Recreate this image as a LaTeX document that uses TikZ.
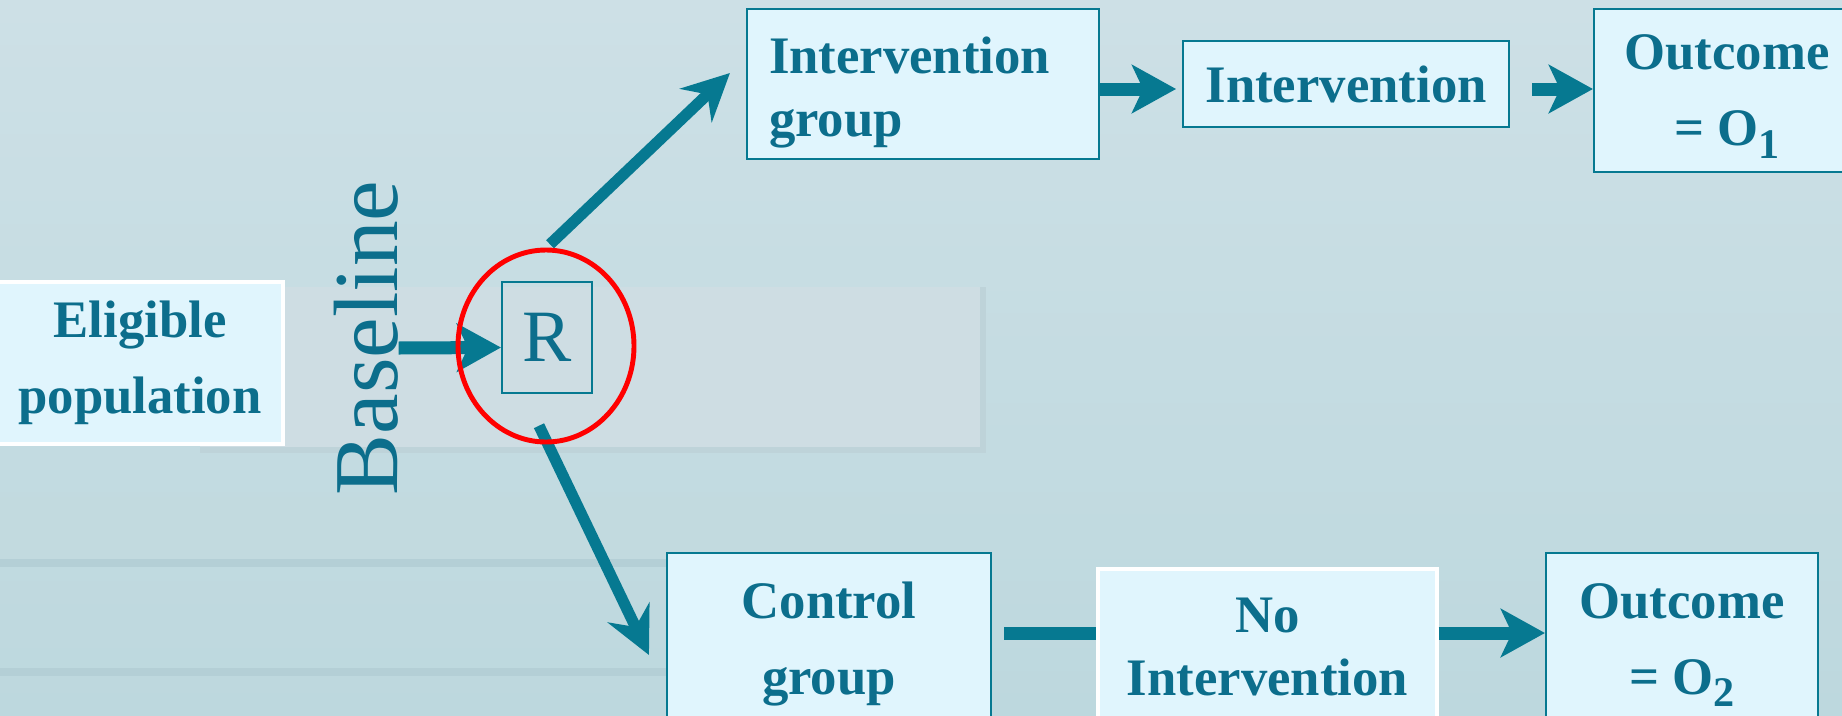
\documentclass[tikz,border=0pt]{standalone}
\usepackage{fontspec}
\setmainfont{Liberation Serif}
\usepackage{xcolor}
\usepackage{tikz}
\usetikzlibrary{arrows.meta,positioning,shapes.geometric}

\definecolor{tealink}{RGB}{12,110,140}
\definecolor{tealarr}{RGB}{6,121,145}
\definecolor{boxfill}{RGB}{224,245,253}
\definecolor{bgtop}{RGB}{205,224,230}
\definecolor{bgbot}{RGB}{189,216,222}
\definecolor{bandfill}{RGB}{206,221,227}
\definecolor{bandedge}{RGB}{190,211,217}
\definecolor{streak}{RGB}{180,207,214}

\begin{document}
\begin{tikzpicture}[
    box/.style={rectangle, draw=tealarr, line width=0.6pt, fill=boxfill, text=tealink, font=\fontsize{15}{21.6}\selectfont\bfseries, align=center, inner sep=0pt},
    whitebox/.style={box, draw=white, line width=0.9pt},
    fatarrow/.style={-{Stealth[length=4.4mm,width=4.8mm,inset=1.1mm]}, color=tealarr, line width=3.7pt},
    slimarrow/.style={-{Stealth[length=4.7mm,width=4.6mm,inset=1.6mm]}, color=tealarr, line width=3.2pt}
]
    \useasboundingbox (0,0) rectangle (18.42,7.15);
    \clip (0,0) rectangle (18.42,7.15);

    % Slide background
    \shade[top color=bgtop, bottom color=bgbot] (0,0) rectangle (18.42,7.15);
    \fill[bandfill] (2.0,2.65) rectangle (9.83,4.28);
    \draw[bandedge, line width=1.5pt] (2.0,2.65) -- (9.83,2.65) -- (9.83,4.28);
    \fill[bandfill!30!bgbot] (0,1.52) rectangle (8.8,2.18);
    \draw[streak, line width=2.5pt] (0,1.52) -- (9.5,1.52);
    \draw[streak, line width=2.5pt] (0,0.43) -- (9.5,0.43);

    % Left part
    \node[whitebox, minimum width=2.86cm, minimum height=1.62cm] (elig) at (1.40,3.52) {Eligible\\population};
    \node[rotate=90, anchor=base, inner sep=0pt, text=tealink, font=\fontsize{26}{26}\selectfont] (baseline) at (3.97,3.77) {Baseline};
    \node[draw=tealarr, line width=0.6pt, minimum width=0.9cm, minimum height=1.11cm, inner sep=0pt, text=tealink, font=\fontsize{21}{21}\selectfont] (rbox) at (5.47,3.775) {R};

    % Upper row
    \node[box, align=left, text width=3.08cm, inner xsep=0.22cm, minimum height=1.5cm, font=\fontsize{15}{18}\selectfont\bfseries] (igrp) at (9.23,6.31) {\rule{0pt}{5.4mm}Intervention\\group};
    \node[box, minimum width=3.26cm, minimum height=0.86cm, right=0.82cm of igrp] (intv) {Intervention};
    \node[box, minimum width=2.66cm, minimum height=1.63cm] (out1) at (17.27,6.245) {Outcome\\= O\raisebox{-1.3mm}[0pt][0pt]{\fontsize{12}{12}\selectfont 1}};

    % Lower row
    \node[box, minimum width=3.24cm, minimum height=1.82cm] (ctrl) at (8.29,0.71) {Control\\group};
    \node[whitebox, minimum width=3.39cm, minimum height=1.56cm, font=\fontsize{15}{18.2}\selectfont\bfseries] (noint) at (12.675,0.68) {No\\Intervention};
    \node[box, minimum width=2.72cm, minimum height=1.84cm] (out2) at (16.82,0.70) {Outcome\\= O\raisebox{-1.2mm}[0pt][0pt]{\fontsize{12}{12}\selectfont 2}\rule[-1.2mm]{0pt}{1.2mm}};

    % Randomisation ring
    \node[ellipse, minimum width=1.76cm, minimum height=1.92cm, inner sep=0pt] (ring) at (5.46,3.69) {};

    % Connectors
    \draw[fatarrow] ([yshift=-1mm]baseline.south) -- ([yshift=-1mm]rbox.west);
    \draw[slimarrow] ([xshift=0.4mm,yshift=0.5mm]ring.north) -- ([xshift=-1.6mm,yshift=1.1mm]igrp.west);
    \draw[slimarrow] ([xshift=-0.7mm,yshift=1.7mm]ring.south) -- ([xshift=-1.7mm,yshift=-1.1mm]ctrl.west);

    \draw[fatarrow, shorten >=0.6mm] ([yshift=-0.5mm]igrp.east) -- ([yshift=-0.5mm]intv.west);
    \draw[fatarrow, shorten <=2.2mm] ([yshift=-0.5mm]intv.east) -- ([yshift=-0.5mm]intv.east -| out1.west);

    \draw[tealarr, line width=3.7pt, shorten <=1.2mm] ([yshift=1.1mm]ctrl.east) -- ([yshift=1.1mm]ctrl.east -| noint.west);
    \draw[fatarrow] ([yshift=1.2mm]out2.west -| noint.east) -- ([yshift=1.2mm]out2.west);

    % Ring on top of the connectors
    \draw[red, line width=1.4pt] (ring.center) ellipse [x radius=0.88cm, y radius=0.96cm];
\end{tikzpicture}
\end{document}
